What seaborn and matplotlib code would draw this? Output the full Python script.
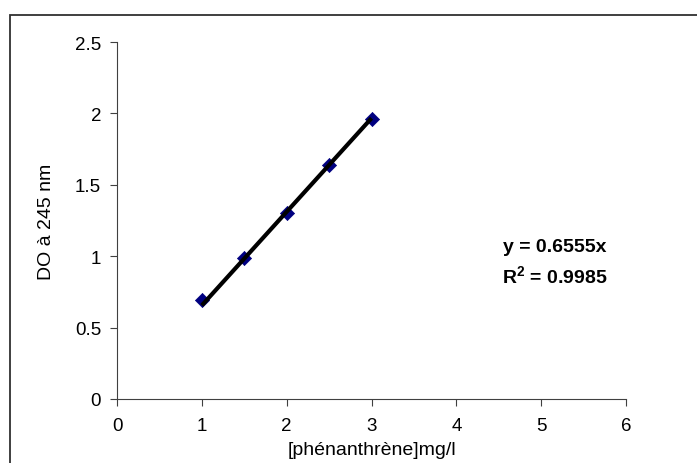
import matplotlib
matplotlib.use("Agg")
import matplotlib.pyplot as plt
import seaborn as sns
import numpy as np
import pandas as pd
from matplotlib.patches import Rectangle

# Data
conc = [1.0, 1.5, 2.0, 2.5, 3.0]
absorbance = [0.69, 0.99, 1.30, 1.64, 1.96]
slope = 0.6555
r2 = 0.9985
x_ticks = [0, 1, 2, 3, 4, 5, 6]
y_ticks = [0, 0.5, 1, 1.5, 2, 2.5]
y_tick_labels = ["0", "0.5", "1", "1.5", "2", "2.5"]

sns.set_theme(style="white")
plt.rcParams['font.family'] = ['Liberation Sans', 'DejaVu Sans']
plt.rcParams['text.color'] = 'black'
plt.rcParams['axes.labelcolor'] = 'black'
plt.rcParams['mathtext.fontset'] = 'custom'
plt.rcParams['mathtext.rm'] = 'Liberation Sans'
plt.rcParams['mathtext.bf'] = 'Liberation Sans:bold'

fig = plt.figure(figsize=(6.97, 4.64), dpi=100)
ax = fig.add_axes([117/697, 1-400/464, (626-117)/697, (400-43)/464])

df = pd.DataFrame({"x": conc, "y": absorbance})
fit = pd.DataFrame({"x": [min(conc), max(conc)],
                    "y": [slope*min(conc), slope*max(conc)]})

sns.lineplot(data=fit, x="x", y="y", ax=ax, color="black", linewidth=3.0,
             solid_capstyle="butt", zorder=3)
sns.scatterplot(data=df, x="x", y="y", ax=ax, marker="D", s=52,
                color="#000080", edgecolor="#000080", linewidth=0.5, zorder=2)

ax.set_xlim(0, 6)
ax.set_ylim(0, 2.5)
ax.set_xticks(x_ticks)
ax.set_xticklabels([str(t) for t in x_ticks])
ax.set_yticks(y_ticks)
ax.set_yticklabels(y_tick_labels)
ax.tick_params(axis="both", which="major", direction="out", length=5,
               width=0.8, color="#404040", labelsize=13.5, labelcolor="black",
               bottom=True, left=True)
ax.tick_params(axis="x", pad=8)
ax.tick_params(axis="y", pad=6.5)

for side in ["top", "right"]:
    ax.spines[side].set_visible(False)
for side in ["left", "bottom"]:
    ax.spines[side].set_color("#404040")
    ax.spines[side].set_linewidth(0.8)

ax.set_xlabel("[phénanthrène]mg/l", fontsize=14)
ax.set_ylabel("DO à 245 nm", fontsize=14)
ax.xaxis.set_label_coords(0.5, (400-451)/357)
ax.xaxis.label.set_va("center")
ax.yaxis.set_label_coords((46-117)/509, 0.5)
ax.yaxis.label.set_va("center")

ax.text(555/697, 1-248/464, f"y = {slope}x", transform=fig.transFigure,
        ha="center", va="center", fontsize=14, fontweight="bold")
ax.text(555/697, 1-277/464, r"R$^{\mathbf{2}}$" + f" = {r2}",
        transform=fig.transFigure, ha="center", va="center",
        fontsize=14, fontweight="bold")

fig.patches.append(Rectangle((9.5/697, -0.2), 1.5, 0.2 + 1 - 15.5/464,
                             transform=fig.transFigure, fill=False,
                             edgecolor="#303030", linewidth=1.3))

fig.savefig("out.png", dpi=100)
